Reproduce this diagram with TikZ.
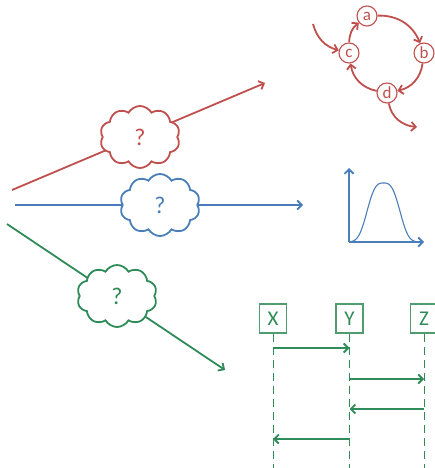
\documentclass[tikz,border=0pt]{standalone}
\usepackage{fontspec}
\setmainfont{Carlito}
\usetikzlibrary{arrows.meta,shapes.symbols}
\definecolor{cred}{HTML}{C0504D}
\definecolor{cblue}{HTML}{4A7EBB}
\definecolor{cgreen}{HTML}{2F8B57}
\tikzset{
  arr/.style={-{Straight Barb[length=4.5pt,width=9pt]}, line width=1.8pt},
  qcloud/.style={cloud, cloud puffs=10, cloud puff arc=120, aspect=1.3, draw, fill=white, line width=1.8pt, minimum width=80pt, minimum height=62pt, font=\fontsize{24}{24}\selectfont, inner sep=0pt},
  gnode/.style={circle, draw=cred, line width=1.1pt, fill=white, minimum size=20pt, inner sep=0pt, text=cred, font=\fontsize{17}{17}\selectfont},
  sbox/.style={draw=cgreen!85, line width=1.1pt, fill=white, minimum width=27pt, minimum height=29pt, inner sep=0pt, text=cgreen, font=\fontsize{21}{21}\selectfont},
  life/.style={draw=cgreen, line width=1pt, dash pattern=on 8pt off 5pt},
  msg/.style={arr, draw=cgreen},
}
\begin{document}
\begin{tikzpicture}[x=1pt,y=-1pt]
\useasboundingbox (0,0) rectangle (435,468);
% red line + cloud
\coordinate (r0) at (12,190);
\coordinate (r1) at (265,83);
\draw[arr, cred] (r0) -- (r1);
\node[qcloud, draw=cred, text=cred] (rc) at (140,137) {?};
% blue
\coordinate (b0) at (15,205);
\coordinate (b1) at (303,205);
\draw[arr, cblue] (b0) -- (b1);
\node[qcloud, draw=cblue, text=cblue] (bc) at (160,205) {?};
% green
\coordinate (g0) at (7,224);
\coordinate (g1) at (225,370);
\draw[arr, cgreen] (g0) -- (g1);
\node[qcloud, draw=cgreen, text=cgreen] (gc) at (117,296) {?};
% red graph
\node[gnode] (a) at (367,16) {a};
\node[gnode] (b) at (424,53) {b};
\node[gnode] (c) at (349,53) {c};
\node[gnode] (d) at (387,93) {d};
\draw[arr, cred] (a) to[bend left=35] (b);
\draw[arr, cred] (b) to[bend left=35] (d);
\draw[arr, cred] (d) to[bend left=35] (c);
\draw[arr, cred] (c) to[bend left=25] (a);
\coordinate (in1) at (313,24);
\coordinate (out1) at (417,127);
\draw[arr, cred] (in1) to[out=-75,in=165] (c);
\draw[arr, cred] (d) to[out=-80,in=175] (out1);
% blue plot
\coordinate (o) at (349,242);
\coordinate (ytop) at (349,168);
\coordinate (xend) at (424,242);
\draw[arr, cblue] (o) -- (ytop);
\draw[arr, cblue] (o) -- (xend);
\draw[cblue, line width=1.1pt] plot[domain=351:416, samples=120] (\x, {242-59*exp(-abs((\x-383.5)/19)*abs((\x-383.5)/19)*abs((\x-383.5)/19))});
% sequence
\node[sbox] (X) at (273,318.5) {X};
\node[sbox] (Y) at (349.5,318.5) {Y};
\node[sbox] (Z) at (424,318.5) {Z};
\coordinate (Xb) at (273,468);
\coordinate (Yb) at (349.5,468);
\coordinate (Zb) at (424,468);
\draw[life] (X.south) -- (Xb);
\draw[life] (Y.south) -- (Yb);
\draw[life] (Z.south) -- (Zb);
\draw[msg] (273,348) -- (349.5,348);
\draw[msg] (349.5,379) -- (424,379);
\draw[msg] (424,409) -- (349.5,409);
\draw[msg] (349.5,439) -- (273,439);
\end{tikzpicture}
\end{document}
